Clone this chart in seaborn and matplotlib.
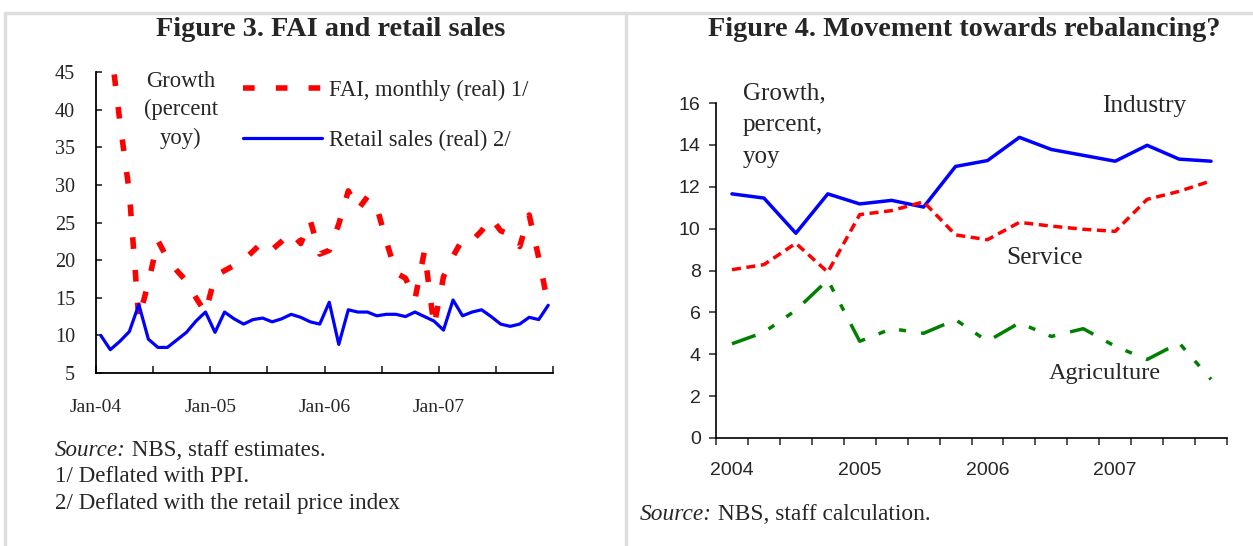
import numpy as np
import pandas as pd
import matplotlib
matplotlib.use("Agg")
import matplotlib.pyplot as plt
from matplotlib.lines import Line2D
import seaborn as sns

# Figure 3: monthly growth, percent yoy
months = pd.date_range("2004-01-01", periods=48, freq="MS").strftime("%b-%y").tolist()
fai_real = [np.nan, 49.0, 38.5, 29.0, 12.2, 17.0, 22.6, 20.2, 18.6, 17.2, 15.0, 13.0,
            17.9, 18.6, 19.3, 20.0, 21.2, 22.4, 21.4, 22.5, 23.7, 22.2, 25.3, 20.8,
            21.3, 24.8, 29.2, 26.7, 28.4, 27.0, 22.5, 18.3, 17.6, 14.8, 21.2, 11.2,
            17.8, 20.5, 22.8, 22.6, 23.9, 25.6, 23.9, 23.4, 21.8, 26.0, 20.3, 14.0]
retail_real = [10.0, 8.1, 9.2, 10.5, 14.1, 9.5, 8.4, 8.4, 9.4, 10.4, 11.9, 13.1,
               10.4, 13.1, 12.2, 11.5, 12.1, 12.3, 11.8, 12.2, 12.8, 12.4, 11.8, 11.5,
               14.4, 8.8, 13.4, 13.1, 13.1, 12.6, 12.8, 12.8, 12.5, 13.1, 12.5, 11.9,
               10.7, 14.7, 12.6, 13.1, 13.4, 12.5, 11.5, 11.2, 11.5, 12.4, 12.1, 14.0]

# Figure 4: quarterly growth, percent yoy
quarters = [f"{y}Q{q}" for y in range(2004, 2008) for q in range(1, 5)]
industry = [11.66, 11.46, 9.78, 11.66, 11.18, 11.35, 11.03, 12.97,
            13.25, 14.36, 13.78, 13.5, 13.22, 13.98, 13.32, 13.22]
service = [8.04, 8.28, 9.3, 7.92, 10.67, 10.86, 11.28, 9.7,
           9.47, 10.3, 10.12, 9.97, 9.87, 11.4, 11.78, 12.28]
agriculture = [4.5, 5.05, 6.1, 7.55, 4.62, 5.22, 5.0, 5.65,
               4.62, 5.5, 4.85, 5.22, 4.38, 3.75, 4.54, 2.8]

notes_left = [("Source:", " NBS, staff estimates."),
              ("", "1/ Deflated with PPI."),
              ("", "2/ Deflated with the retail price index")]
notes_right = [("Source:", " NBS, staff calculation.")]

W, H = 1253, 546
sns.set_style("white")
plt.rcParams["font.family"] = ["Liberation Serif", "DejaVu Serif"]

fig = plt.figure(figsize=(W / 100, H / 100), dpi=100)
renderer = fig.canvas.get_renderer()


def fx(px):
    return px / W


def fy(py):
    return 1 - py / H


def note(x, y, italic, rest, size):
    # italic lead-in followed by upright text
    x_end = x
    if italic:
        t = fig.text(fx(x), fy(y), italic, ha="left", va="center", fontsize=size, style="italic")
        x_end = t.get_window_extent(renderer=renderer).x1
    fig.text(fx(x_end), fy(y), rest, ha="left", va="center", fontsize=size)


# light grey frame of the two panels
for xs, ys in [((5, W), (13, 13)), ((5, 5), (13, H)), ((626, 626), (13, H))]:
    fig.add_artist(Line2D([fx(x) for x in xs], [fy(y) for y in ys], color="#dedede", lw=2.5))

# ---------------- Figure 3 ----------------
ax1 = fig.add_axes([fx(96), fy(373), fx(553) - fx(96), fy(72) - fy(373)])
df1 = pd.DataFrame({"m": np.arange(len(months)), "fai": fai_real, "retail": retail_real})
sns.lineplot(data=df1, x="m", y="fai", ax=ax1, color="#ff0000", linewidth=4,
             linestyle=(0, (2.1, 3.8)), estimator=None, label="FAI, monthly (real) 1/")
sns.lineplot(data=df1, x="m", y="retail", ax=ax1, color="#0000ff", linewidth=2.3,
             estimator=None, label="Retail sales (real) 2/")
ax1.set_xlim(-0.5, len(months) - 0.5)
ax1.set_ylim(5, 45)
ax1.set_yticks(range(5, 50, 5))
xt = np.arange(-0.5, len(months), 6)
ax1.set_xticks(xt)
ax1.set_xticklabels([months[int(p + 0.5)] if (p + 0.5) % 12 == 0 and p < 47 else "" for p in xt])
ax1.set_xlabel("")
ax1.set_ylabel("")
sns.despine(ax=ax1)
for s in ["left", "bottom"]:
    ax1.spines[s].set_color("black")
    ax1.spines[s].set_linewidth(1.3)
ax1.tick_params(axis="y", direction="in", length=4, width=1.2, pad=15, labelsize=14.5, left=True)
ax1.tick_params(axis="x", direction="in", length=5, width=1.2, pad=19, labelsize=14, bottom=True)
ax1.legend(loc="upper left", bbox_to_anchor=(0.322, 0.975), frameon=False, fontsize=16.3,
           handlelength=3.5, handletextpad=0.3, labelspacing=1.3, borderpad=0, borderaxespad=0)
fig.text(fx(181), fy(110), "Growth\n(percent\nyoy)", ha="center", va="center", fontsize=16.3,
         linespacing=1.45)
fig.text(fx(331), fy(30), "Figure 3. FAI and retail sales", ha="center", va="center",
         fontsize=20.3, fontweight="bold")
for k, (it, rest) in enumerate(notes_left):
    note(55, 450 + 26.5 * k, it, rest, 16.6)

# ---------------- Figure 4 ----------------
ax2 = fig.add_axes([fx(716), fy(438), fx(1227) - fx(716), fy(103) - fy(438)])
df2 = pd.DataFrame({"q": np.arange(len(quarters)), "industry": industry,
                    "service": service, "agriculture": agriculture})
sns.lineplot(data=df2, x="q", y="industry", ax=ax2, color="#0000ff", linewidth=2.5, estimator=None)
sns.lineplot(data=df2, x="q", y="service", ax=ax2, color="#ff0000", linewidth=2.5,
             linestyle=(0, (2.6, 1.6)), estimator=None)
sns.lineplot(data=df2, x="q", y="agriculture", ax=ax2, color="#008000", linewidth=2.5,
             linestyle=(0, (7.2, 4.2, 2.0, 4.2, 2.0, 4.4)), estimator=None)
ax2.set_xlim(-0.5, len(quarters) - 0.5)
ax2.set_ylim(0, 16)
ax2.set_yticks(range(0, 17, 2))
ax2.set_xticks(np.arange(-0.5, len(quarters), 1))
ax2.set_xticklabels([])
ax2.set_xticks(np.arange(0, len(quarters), 4), minor=True)
ax2.set_xticklabels([q[:4] for q in quarters[::4]], minor=True)
ax2.set_xlabel("")
ax2.set_ylabel("")
sns.despine(ax=ax2)
for s in ["left", "bottom"]:
    ax2.spines[s].set_color("black")
    ax2.spines[s].set_linewidth(1.2)
ax2.tick_params(axis="both", which="major", direction="out", length=5, width=1.1, left=True, bottom=True)
ax2.tick_params(axis="y", labelsize=14, pad=6)
ax2.tick_params(axis="x", which="minor", length=0, pad=17, labelsize=14, bottom=True)
for lab in ax2.get_yticklabels() + ax2.get_xticklabels(minor=True):
    lab.set_family(["Liberation Sans", "DejaVu Sans"])

fig.text(fx(743), fy(125), "Growth,\npercent,\nyoy", ha="left", va="center", fontsize=18, linespacing=1.57)
fig.text(fx(1144), fy(106), "Industry", ha="center", va="center", fontsize=18.3)
fig.text(fx(1045), fy(258), "Service", ha="center", va="center", fontsize=18.3)
fig.text(fx(1105), fy(374), "Agriculture", ha="center", va="center", fontsize=17.5)
fig.text(fx(964), fy(30), "Figure 4. Movement towards rebalancing?", ha="center", va="center",
         fontsize=20.3, fontweight="bold")
for it, rest in notes_right:
    note(640, 515, it, rest, 16.8)

fig.savefig("out.png", dpi=100, facecolor="white")
